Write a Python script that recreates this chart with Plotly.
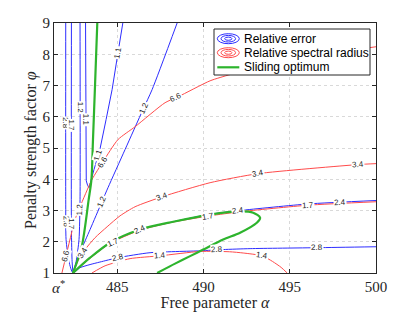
import math
import plotly.graph_objects as go

# ---------------- axes ----------------
x_range = [481.33, 500.0]
y_range = [1.0, 9.0]
x_ticks = [485, 490, 495, 500]
y_ticks = [1, 2, 3, 4, 5, 6, 7, 8, 9]
alpha_star = 481.57

# ---------------- relative error (blue) contours ----------------
err_28_a = [482.01, 482.01, 482.03, 482.20, 482.43, 482.84, 483.42, 483.99, 485.04, 486.90, 489.80, 491.14, 492.70, 496.59, 500.0]
err_28_p = [9.0, 3.35, 2.07, 1.36, 1.0, 1.17, 1.27, 1.35, 1.49, 1.65, 1.71, 1.75, 1.78, 1.81, 1.84]
err_28_lab_a = [482.01, 482.01, 485.04, 490.79, 496.59]
err_28_lab_p = [5.81, 2.64, 1.49, 1.72, 1.81]

err_17_a = [482.34, 482.34, 482.38, 482.43]
err_17_p = [9.0, 2.39, 1.36, 1.0]
err_17_lab_a = [482.34, 482.34]
err_17_lab_p = [5.71, 2.55]

err_12_a = [482.84, 482.84, 482.78, 482.61, 482.43, 482.84, 483.42, 484.11, 484.46, 485.45, 486.49, 487.02, 488.47]
err_12_p = [9.0, 3.35, 2.07, 1.36, 1.0, 1.65, 2.39, 3.28, 3.73, 4.95, 6.23, 6.87, 9.0]
err_12_lab_a = [482.84, 482.80, 484.11, 486.44]
err_12_lab_p = [6.29, 3.03, 3.28, 6.29]

err_11_a = [483.16, 483.17, 483.20, 483.28, 483.36, 483.65, 483.99, 484.35, 484.70, 485.04, 485.32]
err_11_p = [9.0, 6.00, 3.95, 3.80, 3.73, 4.31, 4.95, 5.91, 6.87, 8.05, 9.0]
err_11_lab_a = [483.16, 483.88, 485.04]
err_11_lab_p = [5.91, 4.79, 8.05]

err_24_a = [482.43, 483.42, 484.58, 486.32, 488.24, 490.38, 492.12, 496.07, 500.0]
err_24_p = [1.0, 1.49, 1.97, 2.39, 2.64, 2.88, 3.00, 3.21, 3.32]
err_24_lab_a = [486.32, 492.01, 497.93]
err_24_lab_p = [2.39, 2.99, 3.25]

# ---------------- relative spectral radius (red) contours ----------------
rho_66_a = [481.79, 482.03, 482.55, 482.84, 483.53, 484.17, 485.04, 486.03, 487.77, 488.53, 490.38, 491.54, 493.28, 495.60, 497.93, 500.0]
rho_66_p = [1.0, 1.55, 2.71, 3.12, 3.99, 4.56, 5.27, 5.68, 6.45, 6.64, 7.15, 7.35, 7.60, 7.89, 8.08, 8.24]
rho_66_lab_a = [482.00, 484.17, 488.35]
rho_66_lab_p = [1.55, 4.53, 6.64]

rho_34_a = [482.43, 482.72, 483.13, 483.71, 484.41, 485.16, 486.03, 487.60, 490.38, 493.17, 498.97, 500.0]
rho_34_p = [1.0, 1.39, 1.75, 2.13, 2.48, 2.83, 3.12, 3.44, 3.89, 4.18, 4.47, 4.50]
rho_34_lab_a = [483.0, 487.60, 493.17, 498.97]
rho_34_lab_p = [1.65, 3.44, 4.18, 4.47]

rho_17_a = [482.43, 483.42, 484.58, 486.32, 488.24, 490.38, 492.12, 496.07, 500.0]
rho_17_p = [1.0, 1.47, 1.95, 2.37, 2.63, 2.83, 2.96, 3.17, 3.28]
rho_17_lab_a = [484.75, 490.26, 496.07]
rho_17_lab_p = [1.97, 2.81, 3.19]

rho_14_a = [483.53, 484.29, 485.74, 487.48, 489.80, 491.50, 492.30, 493.40, 494.00, 494.50, 494.85]
rho_14_p = [1.0, 1.23, 1.46, 1.55, 1.69, 1.68, 1.64, 1.55, 1.37, 1.18, 1.0]
rho_14_lab_a = [487.48, 493.40]
rho_14_lab_p = [1.55, 1.55]

# ---------------- sliding optimum (green) ----------------
opt_upper_a = [483.84, 483.71, 483.59, 483.50, 483.34, 482.94, 482.43]
opt_upper_p = [9.0, 7.02, 5.26, 3.99, 3.35, 1.85, 1.0]
opt_lower_a = [482.43, 483.42, 484.58, 486.32, 488.24, 490.38, 492.12, 492.88, 493.28, 493.09, 492.12, 491.14, 489.98, 489.22, 488.35, 487.31]
opt_lower_p = [1.0, 1.49, 1.97, 2.39, 2.64, 2.87, 2.97, 2.93, 2.77, 2.61, 2.29, 2.07, 1.75, 1.54, 1.30, 1.0]

BLUE = "rgb(45,45,255)"
RED = "rgb(255,75,75)"
GREEN = "rgb(45,180,45)"

# figure geometry (the page body adds an 8 px offset)
OFF = 8
W, H = 407, 304
ML, MR, MT, MB = 46, 39, 15, 39
PW, PH = W - ML - MR, H - MT - MB
kx = PW / (x_range[1] - x_range[0])
ky = PH / (y_range[1] - y_range[0])

contours = [
    ("2.8", BLUE, err_28_a, err_28_p, err_28_lab_a, err_28_lab_p, "spline"),
    ("1.7", BLUE, err_17_a, err_17_p, err_17_lab_a, err_17_lab_p, "spline"),
    ("1.2", BLUE, err_12_a, err_12_p, err_12_lab_a, err_12_lab_p, "spline"),
    ("1.1", BLUE, err_11_a, err_11_p, err_11_lab_a, err_11_lab_p, "linear"),
    ("2.4", BLUE, err_24_a, err_24_p, err_24_lab_a, err_24_lab_p, "spline"),
    ("6.6", RED, rho_66_a, rho_66_p, rho_66_lab_a, rho_66_lab_p, "spline"),
    ("3.4", RED, rho_34_a, rho_34_p, rho_34_lab_a, rho_34_lab_p, "spline"),
    ("1.7", RED, rho_17_a, rho_17_p, rho_17_lab_a, rho_17_lab_p, "spline"),
    ("1.4", RED, rho_14_a, rho_14_p, rho_14_lab_a, rho_14_lab_p, "spline"),
]

fig = go.Figure()
annotations = []


def snap(a, p, xs, ys):
    best = None
    for i in range(len(xs) - 1):
        x1, y1 = xs[i] * kx, ys[i] * ky
        x2, y2 = xs[i + 1] * kx, ys[i + 1] * ky
        px, py = a * kx, p * ky
        dx, dy = x2 - x1, y2 - y1
        L2 = dx * dx + dy * dy
        t = 0 if L2 == 0 else max(0, min(1, ((px - x1) * dx + (py - y1) * dy) / L2))
        qx, qy = x1 + t * dx, y1 + t * dy
        d = (qx - px) ** 2 + (qy - py) ** 2
        if best is None or d < best[0]:
            ang = -math.degrees(math.atan2(dy, dx))
            while ang > 90:
                ang -= 180
            while ang <= -90:
                ang += 180
            best = (d, qx / kx, qy / ky, ang)
    return best[1], best[2], best[3]


for lev, col, xs, ys, la, lp, shp in contours:
    line = dict(color=col, width=1, shape=shp)
    if shp == "spline":
        line["smoothing"] = 0.6
    fig.add_trace(go.Scatter(x=xs, y=ys, mode="lines", showlegend=False, line=line,
                             hoverinfo="skip"))
    for a, p in zip(la, lp):
        sa, sp, ang = snap(a, p, xs, ys)
        annotations.append(dict(x=sa, y=sp, xref="x", yref="y", text=lev, showarrow=False,
                                textangle=ang, font=dict(family="Liberation Sans", size=8, color="#222"),
                                bgcolor="white", borderpad=0))

for xs, ys in [(opt_upper_a, opt_upper_p), (opt_lower_a, opt_lower_p)]:
    fig.add_trace(go.Scatter(x=xs, y=ys, mode="lines", showlegend=False,
                             line=dict(color=GREEN, width=2.2, shape="spline", smoothing=0.8),
                             hoverinfo="skip"))

# alpha* tick label
annotations.append(dict(x=alpha_star, y=0, xref="x", yref="paper", yshift=-3, yanchor="top",
                        text="<i>α</i><sup>*</sup>", showarrow=False,
                        font=dict(family="Liberation Serif", size=15, color="#262626")))


# ---------------- legend (drawn manually; positions in screen pixels) ----------------
def px2x(px):
    return (px - OFF - ML) / PW


def py2y(py):
    return (MT + PH - (py - OFF)) / PH


# y-axis title placed close to the tick labels
annotations.append(dict(x=px2x(31), y=py2y(150), xref="paper", yref="paper",
                        text="Penalty strength factor <i>φ</i>", textangle=-90, showarrow=False,
                        xanchor="center", yanchor="middle",
                        font=dict(family="Liberation Serif", size=16, color="#262626")))

shapes = []
shapes.append(dict(type="rect", xref="paper", yref="paper", x0=px2x(214), x1=px2x(370),
                   y0=py2y(75), y1=py2y(29), line=dict(color="#262626", width=1), fillcolor="white",
                   layer="above"))
rows = [38.7, 52.7, 67.3]
names = ["Relative error", "Relative spectral radius", "Sliding optimum"]
cx = 228.3
for row, col in zip(rows[:2], [BLUE, RED]):
    for hw, hh in [(11, 5), (7.3, 3.3), (3.6, 1.6)]:
        shapes.append(dict(type="circle", xref="paper", yref="paper",
                           x0=px2x(cx - hw), x1=px2x(cx + hw), y0=py2y(row + hh), y1=py2y(row - hh),
                           line=dict(color=col, width=1), layer="above"))
shapes.append(dict(type="line", xref="paper", yref="paper", x0=px2x(217.3), x1=px2x(239.3),
                   y0=py2y(rows[2]), y1=py2y(rows[2]), line=dict(color=GREEN, width=2.2), layer="above"))
for row, nm in zip(rows, names):
    annotations.append(dict(x=px2x(241.5), y=py2y(row), xref="paper", yref="paper", text=nm,
                            showarrow=False, xanchor="left", yanchor="middle",
                            font=dict(family="Liberation Sans", size=12, color="black")))

axis_common = dict(showline=True, linecolor="#262626", linewidth=1, mirror="ticks",
                   ticks="inside", ticklen=4, tickcolor="#262626",
                   showgrid=True, gridcolor="#d9d9d9", griddash="dot", gridwidth=1,
                   zeroline=False, automargin=False,
                   tickfont=dict(family="Liberation Serif", size=15, color="#262626"))

fig.update_layout(
    width=W, height=H,
    margin=dict(l=ML, r=MR, t=MT, b=MB, pad=0, autoexpand=False),
    paper_bgcolor="white", plot_bgcolor="white",
    xaxis=dict(range=x_range, tickvals=x_ticks, **axis_common,
               title=dict(text="Free parameter <i>α</i>",
                          font=dict(family="Liberation Serif", size=16, color="#262626"))),
    yaxis=dict(range=y_range, tickvals=y_ticks, **axis_common),
    annotations=annotations,
    shapes=shapes,
    showlegend=False,
)

fig.write_html("out.html")
